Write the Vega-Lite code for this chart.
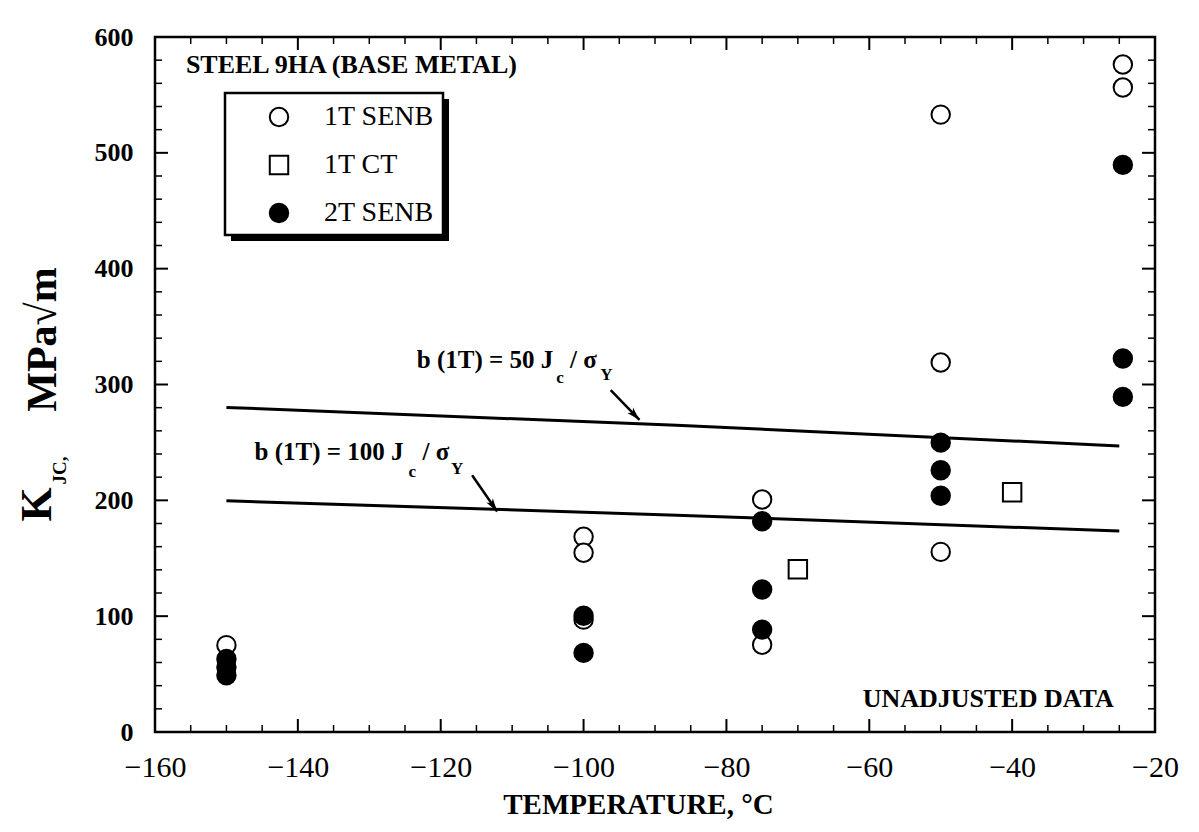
{
  "$schema": "https://vega.github.io/schema/vega-lite/v6.json",
  "width": 1000,
  "height": 695,
  "autosize": {"type": "none"},
  "padding": {"left": 155, "top": 37, "right": 44, "bottom": 100},
  "background": "white",
  "config": {
    "view": {"stroke": "black", "strokeWidth": 2.5},
    "axis": {"grid": false, "domain": false, "ticks": false, "labelColor": "black", "titleColor": "black", "labelFont": "Liberation Serif", "titleFont": "Liberation Serif"},
    "text": {"font": "Liberation Serif"}
  },
  "datasets": {
    "pts": [
      {"T": -150, "K": 75, "series": "1T SENB"},
      {"T": -100, "K": 168.5, "series": "1T SENB"},
      {"T": -100, "K": 154.7, "series": "1T SENB"},
      {"T": -100, "K": 97, "series": "1T SENB"},
      {"T": -75, "K": 200.7, "series": "1T SENB"},
      {"T": -75, "K": 75.4, "series": "1T SENB"},
      {"T": -50, "K": 533, "series": "1T SENB"},
      {"T": -50, "K": 319, "series": "1T SENB"},
      {"T": -50, "K": 155.5, "series": "1T SENB"},
      {"T": -24.5, "K": 576.3, "series": "1T SENB"},
      {"T": -24.5, "K": 556.4, "series": "1T SENB"},
      {"T": -70, "K": 140.5, "series": "1T CT"},
      {"T": -40, "K": 207, "series": "1T CT"},
      {"T": -150, "K": 63, "series": "2T SENB"},
      {"T": -150, "K": 56, "series": "2T SENB"},
      {"T": -150, "K": 49, "series": "2T SENB"},
      {"T": -100, "K": 100.3, "series": "2T SENB"},
      {"T": -100, "K": 68.3, "series": "2T SENB"},
      {"T": -75, "K": 182, "series": "2T SENB"},
      {"T": -75, "K": 123, "series": "2T SENB"},
      {"T": -75, "K": 88.4, "series": "2T SENB"},
      {"T": -50, "K": 249.8, "series": "2T SENB"},
      {"T": -50, "K": 225.9, "series": "2T SENB"},
      {"T": -50, "K": 204, "series": "2T SENB"},
      {"T": -24.5, "K": 489.6, "series": "2T SENB"},
      {"T": -24.5, "K": 322.4, "series": "2T SENB"},
      {"T": -24.5, "K": 289.3, "series": "2T SENB"}
    ],
    "limits": [
      {"T": -150, "K": 280.2, "limit": "b(1T) = 50 Jc/σY"},
      {"T": -87, "K": 264.8, "limit": "b(1T) = 50 Jc/σY"},
      {"T": -25, "K": 247, "limit": "b(1T) = 50 Jc/σY"},
      {"T": -150, "K": 199.6, "limit": "b(1T) = 100 Jc/σY"},
      {"T": -87, "K": 187.2, "limit": "b(1T) = 100 Jc/σY"},
      {"T": -25, "K": 173.5, "limit": "b(1T) = 100 Jc/σY"}
    ],
    "bigtext": [
      {"T": -132.5, "K": 576, "text": "STEEL 9HA (BASE METAL)"},
      {"T": -43.35, "K": 28.7, "text": "UNADJUSTED DATA"}
    ],
    "eq": [
      {"T": -123.35, "K": 314, "text": "b (1T) = 50 J"},
      {"T": -101.9, "K": 314, "text": "/ σ"},
      {"T": -146.07, "K": 234.4, "text": "b (1T) = 100 J"},
      {"T": -122.55, "K": 234.4, "text": "/ σ"}
    ],
    "subs": [
      {"T": -103.3, "K": 305.9, "text": "c"},
      {"T": -96.8, "K": 308.3, "text": "Y"},
      {"T": -124.0, "K": 224.3, "text": "c"},
      {"T": -117.7, "K": 226.7, "text": "Y"}
    ],
    "arrows": [
      {"T1": -96.2, "K1": 295.1, "T2": -92.17, "K2": 269.4, "which": "upper"},
      {"T1": -115.6, "K1": 221.7, "T2": -112.1, "K2": 190.4, "which": "lower"}
    ],
    "legendbox": [
      {"part": "shadow", "x1": -149.36, "x2": -118.84, "y1": 546.5, "y2": 423.9},
      {"part": "box", "x1": -150.2, "x2": -119.68, "y1": 551.7, "y2": 429.1}
    ],
    "ticks": [
      {"axis": "x", "kind": "major", "v": -140}, {"axis": "x", "kind": "major", "v": -120}, {"axis": "x", "kind": "major", "v": -100},
      {"axis": "x", "kind": "major", "v": -80}, {"axis": "x", "kind": "major", "v": -60}, {"axis": "x", "kind": "major", "v": -40},
      {"axis": "x", "kind": "minor", "v": -155}, {"axis": "x", "kind": "minor", "v": -150}, {"axis": "x", "kind": "minor", "v": -145},
      {"axis": "x", "kind": "minor", "v": -135}, {"axis": "x", "kind": "minor", "v": -130}, {"axis": "x", "kind": "minor", "v": -125},
      {"axis": "x", "kind": "minor", "v": -115}, {"axis": "x", "kind": "minor", "v": -110}, {"axis": "x", "kind": "minor", "v": -105},
      {"axis": "x", "kind": "minor", "v": -95}, {"axis": "x", "kind": "minor", "v": -90}, {"axis": "x", "kind": "minor", "v": -85},
      {"axis": "x", "kind": "minor", "v": -75}, {"axis": "x", "kind": "minor", "v": -70}, {"axis": "x", "kind": "minor", "v": -65},
      {"axis": "x", "kind": "minor", "v": -55}, {"axis": "x", "kind": "minor", "v": -50}, {"axis": "x", "kind": "minor", "v": -45},
      {"axis": "x", "kind": "minor", "v": -35}, {"axis": "x", "kind": "minor", "v": -30}, {"axis": "x", "kind": "minor", "v": -25},
      {"axis": "y", "kind": "major", "v": 100}, {"axis": "y", "kind": "major", "v": 200}, {"axis": "y", "kind": "major", "v": 300},
      {"axis": "y", "kind": "major", "v": 400}, {"axis": "y", "kind": "major", "v": 500},
      {"axis": "y", "kind": "minor", "v": 20}, {"axis": "y", "kind": "minor", "v": 40}, {"axis": "y", "kind": "minor", "v": 60}, {"axis": "y", "kind": "minor", "v": 80},
      {"axis": "y", "kind": "minor", "v": 120}, {"axis": "y", "kind": "minor", "v": 140}, {"axis": "y", "kind": "minor", "v": 160}, {"axis": "y", "kind": "minor", "v": 180},
      {"axis": "y", "kind": "minor", "v": 220}, {"axis": "y", "kind": "minor", "v": 240}, {"axis": "y", "kind": "minor", "v": 260}, {"axis": "y", "kind": "minor", "v": 280},
      {"axis": "y", "kind": "minor", "v": 320}, {"axis": "y", "kind": "minor", "v": 340}, {"axis": "y", "kind": "minor", "v": 360}, {"axis": "y", "kind": "minor", "v": 380},
      {"axis": "y", "kind": "minor", "v": 420}, {"axis": "y", "kind": "minor", "v": 440}, {"axis": "y", "kind": "minor", "v": 460}, {"axis": "y", "kind": "minor", "v": 480},
      {"axis": "y", "kind": "minor", "v": 520}, {"axis": "y", "kind": "minor", "v": 540}, {"axis": "y", "kind": "minor", "v": 560}, {"axis": "y", "kind": "minor", "v": 580}
    ]
  },
  "resolve": {"axis": {"x": "independent", "y": "independent"}},
  "layer": [
    {
      "data": {"name": "legendbox"},
      "transform": [{"filter": "datum.part == 'shadow'"}],
      "mark": {"type": "rect", "color": "black"},
      "encoding": {
        "x": {"field": "x1", "type": "quantitative", "scale": {"domain": [-160, -20], "nice": false, "zero": false}, "axis": null},
        "x2": {"field": "x2"},
        "y": {"field": "y1", "type": "quantitative", "scale": {"domain": [0, 600], "nice": false, "zero": false}, "axis": null},
        "y2": {"field": "y2"}
      }
    },
    {
      "data": {"name": "legendbox"},
      "transform": [{"filter": "datum.part == 'box'"}],
      "mark": {"type": "rect", "fill": "white", "stroke": "black", "strokeWidth": 2.5},
      "encoding": {
        "x": {"field": "x1", "type": "quantitative", "scale": {"domain": [-160, -20], "nice": false, "zero": false}, "axis": null},
        "x2": {"field": "x2"},
        "y": {"field": "y1", "type": "quantitative", "scale": {"domain": [0, 600], "nice": false, "zero": false}, "axis": null},
        "y2": {"field": "y2"}
      }
    },
    {
      "data": {"name": "ticks"},
      "transform": [{"filter": "datum.axis == 'x' && datum.kind == 'major'"}],
      "mark": {"type": "rule", "color": "black", "strokeWidth": 2},
      "encoding": {
        "x": {"field": "v", "type": "quantitative", "scale": {"domain": [-160, -20], "nice": false, "zero": false}, "axis": null},
        "y": {"datum": 0, "type": "quantitative", "scale": {"domain": [0, 600], "nice": false, "zero": false}, "axis": null},
        "y2": {"datum": 11.2}
      }
    },
    {
      "data": {"name": "ticks"},
      "transform": [{"filter": "datum.axis == 'x' && datum.kind == 'major'"}],
      "mark": {"type": "rule", "color": "black", "strokeWidth": 2},
      "encoding": {
        "x": {"field": "v", "type": "quantitative", "scale": {"domain": [-160, -20], "nice": false, "zero": false}, "axis": null},
        "y": {"datum": 600, "type": "quantitative", "scale": {"domain": [0, 600], "nice": false, "zero": false}, "axis": null},
        "y2": {"datum": 588.8}
      }
    },
    {
      "data": {"name": "ticks"},
      "transform": [{"filter": "datum.axis == 'x' && datum.kind == 'minor'"}],
      "mark": {"type": "rule", "color": "black", "strokeWidth": 1.5},
      "encoding": {
        "x": {"field": "v", "type": "quantitative", "scale": {"domain": [-160, -20], "nice": false, "zero": false}, "axis": null},
        "y": {"datum": 0, "type": "quantitative", "scale": {"domain": [0, 600], "nice": false, "zero": false}, "axis": null},
        "y2": {"datum": 6.0}
      }
    },
    {
      "data": {"name": "ticks"},
      "transform": [{"filter": "datum.axis == 'x' && datum.kind == 'minor'"}],
      "mark": {"type": "rule", "color": "black", "strokeWidth": 1.5},
      "encoding": {
        "x": {"field": "v", "type": "quantitative", "scale": {"domain": [-160, -20], "nice": false, "zero": false}, "axis": null},
        "y": {"datum": 600, "type": "quantitative", "scale": {"domain": [0, 600], "nice": false, "zero": false}, "axis": null},
        "y2": {"datum": 594.0}
      }
    },
    {
      "data": {"name": "ticks"},
      "transform": [{"filter": "datum.axis == 'y' && datum.kind == 'major'"}],
      "mark": {"type": "rule", "color": "black", "strokeWidth": 2},
      "encoding": {
        "y": {"field": "v", "type": "quantitative", "scale": {"domain": [0, 600], "nice": false, "zero": false}, "axis": null},
        "x": {"datum": -160, "type": "quantitative", "scale": {"domain": [-160, -20], "nice": false, "zero": false}, "axis": null},
        "x2": {"datum": -158.18}
      }
    },
    {
      "data": {"name": "ticks"},
      "transform": [{"filter": "datum.axis == 'y' && datum.kind == 'major'"}],
      "mark": {"type": "rule", "color": "black", "strokeWidth": 2},
      "encoding": {
        "y": {"field": "v", "type": "quantitative", "scale": {"domain": [0, 600], "nice": false, "zero": false}, "axis": null},
        "x": {"datum": -20, "type": "quantitative", "scale": {"domain": [-160, -20], "nice": false, "zero": false}, "axis": null},
        "x2": {"datum": -21.82}
      }
    },
    {
      "data": {"name": "ticks"},
      "transform": [{"filter": "datum.axis == 'y' && datum.kind == 'minor'"}],
      "mark": {"type": "rule", "color": "black", "strokeWidth": 1.5},
      "encoding": {
        "y": {"field": "v", "type": "quantitative", "scale": {"domain": [0, 600], "nice": false, "zero": false}, "axis": null},
        "x": {"datum": -160, "type": "quantitative", "scale": {"domain": [-160, -20], "nice": false, "zero": false}, "axis": null},
        "x2": {"datum": -159.02}
      }
    },
    {
      "data": {"name": "ticks"},
      "transform": [{"filter": "datum.axis == 'y' && datum.kind == 'minor'"}],
      "mark": {"type": "rule", "color": "black", "strokeWidth": 1.5},
      "encoding": {
        "y": {"field": "v", "type": "quantitative", "scale": {"domain": [0, 600], "nice": false, "zero": false}, "axis": null},
        "x": {"datum": -20, "type": "quantitative", "scale": {"domain": [-160, -20], "nice": false, "zero": false}, "axis": null},
        "x2": {"datum": -20.98}
      }
    },
    {
      "data": {"name": "limits"},
      "mark": {"type": "line", "color": "black", "strokeWidth": 3},
      "encoding": {
        "x": {"field": "T", "type": "quantitative", "scale": {"domain": [-160, -20], "nice": false, "zero": false}, "axis": null},
        "y": {"field": "K", "type": "quantitative", "scale": {"domain": [0, 600], "nice": false, "zero": false}, "axis": null},
        "detail": {"field": "limit", "type": "nominal"}
      }
    },
    {
      "data": {"name": "pts"},
      "mark": {"type": "point", "filled": true, "stroke": "black", "strokeWidth": 2, "size": 340, "opacity": 1},
      "encoding": {
        "x": {"field": "T", "type": "quantitative", "scale": {"domain": [-160, -20], "nice": false, "zero": false},
          "axis": {"orient": "bottom", "values": [-160, -140, -120, -100, -80, -60, -40, -20], "format": "d", "tickSize": 0, "labelFontSize": 30, "labelPadding": 35, "labelBaseline": "middle", "labelFlush": false, "labelOverlap": false,
            "title": "TEMPERATURE, °C", "titleFontSize": 29, "titleFontWeight": "bold", "titleX": 483, "titleY": 72, "titleBaseline": "middle", "titleAlign": "center"}},
        "y": {"field": "K", "type": "quantitative", "scale": {"domain": [0, 600], "nice": false, "zero": false},
          "axis": {"orient": "left", "values": [0, 100, 200, 300, 400, 500, 600], "format": "d", "tickSize": 0, "labelFontSize": 26, "labelFontWeight": "bold", "labelPadding": 22, "labelBaseline": "middle", "labelFlush": false, "labelOverlap": false,
            "title": "MPa√m", "titleFontSize": 42, "titleFontWeight": "bold", "titleAngle": -90, "titleX": -113, "titleY": 302, "titleAlign": "center", "titleBaseline": "middle"}},
        "shape": {"field": "series", "type": "nominal", "scale": {"domain": ["1T SENB", "1T CT", "2T SENB"], "range": ["circle", "square", "circle"]},
          "legend": {"title": null, "orient": "none", "legendX": 70, "legendY": 56, "strokeColor": null, "fillColor": null, "padding": 10, "rowPadding": 20, "symbolOffset": 30, "labelOffset": 31, "labelFontSize": 28, "labelFont": "Liberation Serif", "labelColor": "black", "symbolSize": 340, "symbolStrokeColor": "black", "symbolStrokeWidth": 2}},
        "fill": {"field": "series", "type": "nominal", "scale": {"domain": ["1T SENB", "1T CT", "2T SENB"], "range": ["white", "white", "black"]},
          "legend": {"title": null, "orient": "none", "legendX": 70, "legendY": 56, "strokeColor": null, "fillColor": null, "padding": 10, "rowPadding": 20, "symbolOffset": 30, "labelOffset": 31, "labelFontSize": 28, "labelFont": "Liberation Serif", "labelColor": "black", "symbolSize": 340, "symbolStrokeColor": "black", "symbolStrokeWidth": 2}},
        "stroke": {"field": "series", "type": "nominal", "scale": {"domain": ["1T SENB", "1T CT", "2T SENB"], "range": ["black", "black", "black"]},
          "legend": {"title": null, "orient": "none", "legendX": 70, "legendY": 56, "strokeColor": null, "fillColor": null, "padding": 10, "rowPadding": 20, "symbolOffset": 30, "labelOffset": 31, "labelFontSize": 28, "labelFont": "Liberation Serif", "labelColor": "black", "symbolSize": 340, "symbolStrokeColor": "black", "symbolStrokeWidth": 2}}
      }
    },
    {
      "data": {"name": "bigtext"},
      "mark": {"type": "text", "fontSize": 26, "fontWeight": "bold", "font": "Liberation Serif", "color": "black", "align": "center", "baseline": "middle"},
      "encoding": {
        "x": {"field": "T", "type": "quantitative", "scale": {"domain": [-160, -20], "nice": false, "zero": false}, "axis": null},
        "y": {"field": "K", "type": "quantitative", "scale": {"domain": [0, 600], "nice": false, "zero": false}, "axis": null},
        "text": {"field": "text"}
      }
    },
    {
      "data": {"name": "eq"},
      "mark": {"type": "text", "fontSize": 25, "fontWeight": "bold", "font": "Liberation Serif", "color": "black", "align": "left", "baseline": "alphabetic"},
      "encoding": {
        "x": {"field": "T", "type": "quantitative", "scale": {"domain": [-160, -20], "nice": false, "zero": false}, "axis": null},
        "y": {"field": "K", "type": "quantitative", "scale": {"domain": [0, 600], "nice": false, "zero": false}, "axis": null},
        "text": {"field": "text"}
      }
    },
    {
      "data": {"name": "subs"},
      "mark": {"type": "text", "fontSize": 17, "fontWeight": "bold", "font": "Liberation Serif", "color": "black", "align": "center", "baseline": "middle"},
      "encoding": {
        "x": {"field": "T", "type": "quantitative", "scale": {"domain": [-160, -20], "nice": false, "zero": false}, "axis": null},
        "y": {"field": "K", "type": "quantitative", "scale": {"domain": [0, 600], "nice": false, "zero": false}, "axis": null},
        "text": {"field": "text"}
      }
    },
    {
      "data": {"name": "arrows"},
      "mark": {"type": "rule", "color": "black", "strokeWidth": 2.5},
      "encoding": {
        "x": {"field": "T1", "type": "quantitative", "scale": {"domain": [-160, -20], "nice": false, "zero": false}, "axis": null},
        "x2": {"field": "T2"},
        "y": {"field": "K1", "type": "quantitative", "scale": {"domain": [0, 600], "nice": false, "zero": false},
          "axis": {"orient": "left", "labels": false, "title": "K", "titleFontSize": 44, "titleFontWeight": "bold", "titleAngle": -90, "titleX": -118, "titleY": 467, "titleAlign": "center", "titleBaseline": "middle"}},
        "y2": {"field": "K2"}
      }
    },
    {
      "data": {"name": "arrows"},
      "transform": [{"filter": "datum.which == 'upper'"}],
      "mark": {"type": "point", "shape": "M0,0 L0.5,1.7 L0,1.25 L-0.5,1.7 Z", "filled": true, "color": "black", "size": 250, "angle": 136, "opacity": 1},
      "encoding": {
        "x": {"field": "T2", "type": "quantitative", "scale": {"domain": [-160, -20], "nice": false, "zero": false}, "axis": null},
        "y": {"field": "K2", "type": "quantitative", "scale": {"domain": [0, 600], "nice": false, "zero": false},
          "axis": {"orient": "left", "labels": false, "title": "JC,", "titleFontSize": 19, "titleFontWeight": "bold", "titleAngle": -90, "titleX": -96, "titleY": 433, "titleAlign": "center", "titleBaseline": "middle"}}
      }
    },
    {
      "data": {"name": "arrows"},
      "transform": [{"filter": "datum.which == 'lower'"}],
      "mark": {"type": "point", "shape": "M0,0 L0.5,1.7 L0,1.25 L-0.5,1.7 Z", "filled": true, "color": "black", "size": 250, "angle": 145.5, "opacity": 1},
      "encoding": {
        "x": {"field": "T2", "type": "quantitative", "scale": {"domain": [-160, -20], "nice": false, "zero": false}, "axis": null},
        "y": {"field": "K2", "type": "quantitative", "scale": {"domain": [0, 600], "nice": false, "zero": false}, "axis": null}
      }
    }
  ]
}
